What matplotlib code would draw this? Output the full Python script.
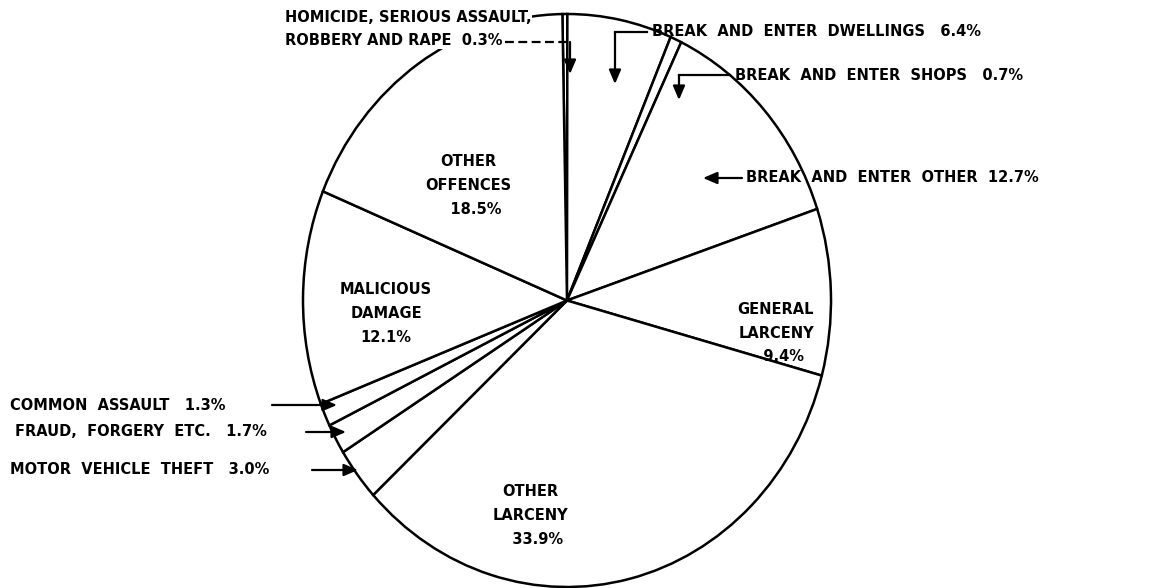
import matplotlib
matplotlib.use("Agg")
import matplotlib.pyplot as plt
from matplotlib.lines import Line2D
from matplotlib.patches import FancyArrowPatch

# ---- data (clockwise from the top) ----
categories = [
    "HOMICIDE, SERIOUS ASSAULT,\nROBBERY AND RAPE",
    "BREAK AND ENTER DWELLINGS",
    "BREAK AND ENTER SHOPS",
    "BREAK AND ENTER OTHER",
    "GENERAL\nLARCENY",
    "OTHER\nLARCENY",
    "MOTOR VEHICLE THEFT",
    "FRAUD, FORGERY ETC.",
    "COMMON ASSAULT",
    "MALICIOUS\nDAMAGE",
    "OTHER\nOFFENCES",
]
shares = [0.3, 6.4, 0.7, 12.7, 9.4, 33.9, 3.0, 1.7, 1.3, 12.1, 18.5]

W, H = 1169, 588
fig = plt.figure(figsize=(W / 100, H / 100), dpi=100)
fig.patch.set_facecolor("white")

def fx(x):
    return x / W

def fy(y):
    return 1 - y / H

# pie axes (slightly taller than wide, like the hand drawing)
left, right, top, bottom = 303, 831, 14, 587
ax = fig.add_axes([fx(left), fy(bottom), (right - left) / W, (bottom - top) / H])
ax.pie(shares, startangle=91, counterclock=False, radius=1.0,
       wedgeprops=dict(facecolor="white", edgecolor="black", linewidth=1.8))
ax.set_aspect("auto")
ax.set_xlim(-1.0, 1.0)
ax.set_ylim(-1.0, 1.0)
ax.axis("off")

font = dict(family="DejaVu Sans", fontweight="bold", fontsize=10.5, color="black")

def pct(v):
    return f"{v:.1f}%"

def wide(s):
    return s.replace(" ", "  ")

# labels inside the wedges
fig.text(fx(468), fy(185), categories[10] + "\n   " + pct(shares[10]),
         ha="center", va="center", linespacing=1.75, **font)
fig.text(fx(386), fy(313), categories[9] + "\n" + pct(shares[9]),
         ha="center", va="center", linespacing=1.75, **font)
fig.text(fx(776), fy(333), categories[4] + "\n   " + pct(shares[4]),
         ha="center", va="center", linespacing=1.7, **font)
fig.text(fx(530), fy(515), categories[5] + "\n   " + pct(shares[5]),
         ha="center", va="center", linespacing=1.75, **font)

def arrow(x0, y0, x1, y1):
    fig.add_artist(FancyArrowPatch(
        (fx(x0), fy(y0)), (fx(x1), fy(y1)), transform=fig.transFigure,
        arrowstyle="-|>,head_length=0.7,head_width=0.3", color="black", lw=1.6,
        mutation_scale=12, shrinkA=0, shrinkB=0, zorder=5))

def line(xs, ys, **kw):
    fig.add_artist(Line2D([fx(x) for x in xs], [fy(y) for y in ys],
                          transform=fig.transFigure, color="black", lw=1.6,
                          zorder=5, **kw))

# outside labels with leaders
fig.text(fx(285), fy(29), categories[0] + "  " + pct(shares[0]),
         ha="left", va="center", linespacing=1.7, zorder=3,
         bbox=dict(facecolor="white", edgecolor="none", pad=0.5), **font)
line([505, 570], [42, 42], linestyle=(0, (4, 2)))
arrow(570, 42, 570, 74)

fig.text(fx(652), fy(32), wide(categories[1]) + "   " + pct(shares[1]), ha="left", va="center", **font)
line([647, 615], [32, 32])
arrow(615, 32, 615, 84)

fig.text(fx(735), fy(75), wide(categories[2]) + "   " + pct(shares[2]), ha="left", va="center", **font)
line([730, 679], [75, 75])
arrow(679, 75, 679, 100)

fig.text(fx(746), fy(178), wide(categories[3]) + "  " + pct(shares[3]), ha="left", va="center", **font)
arrow(742, 178, 703, 178)

fig.text(fx(10), fy(405), wide(categories[8]) + "   " + pct(shares[8]), ha="left", va="center", **font)
arrow(272, 405, 337, 405)

fig.text(fx(15), fy(432), wide(categories[7]) + "   " + pct(shares[7]), ha="left", va="center", **font)
arrow(306, 432, 346, 432)

fig.text(fx(10), fy(470), wide(categories[6]) + "   " + pct(shares[6]), ha="left", va="center", **font)
arrow(312, 470, 358, 470)

fig.savefig("out.png", dpi=100, facecolor="white")
